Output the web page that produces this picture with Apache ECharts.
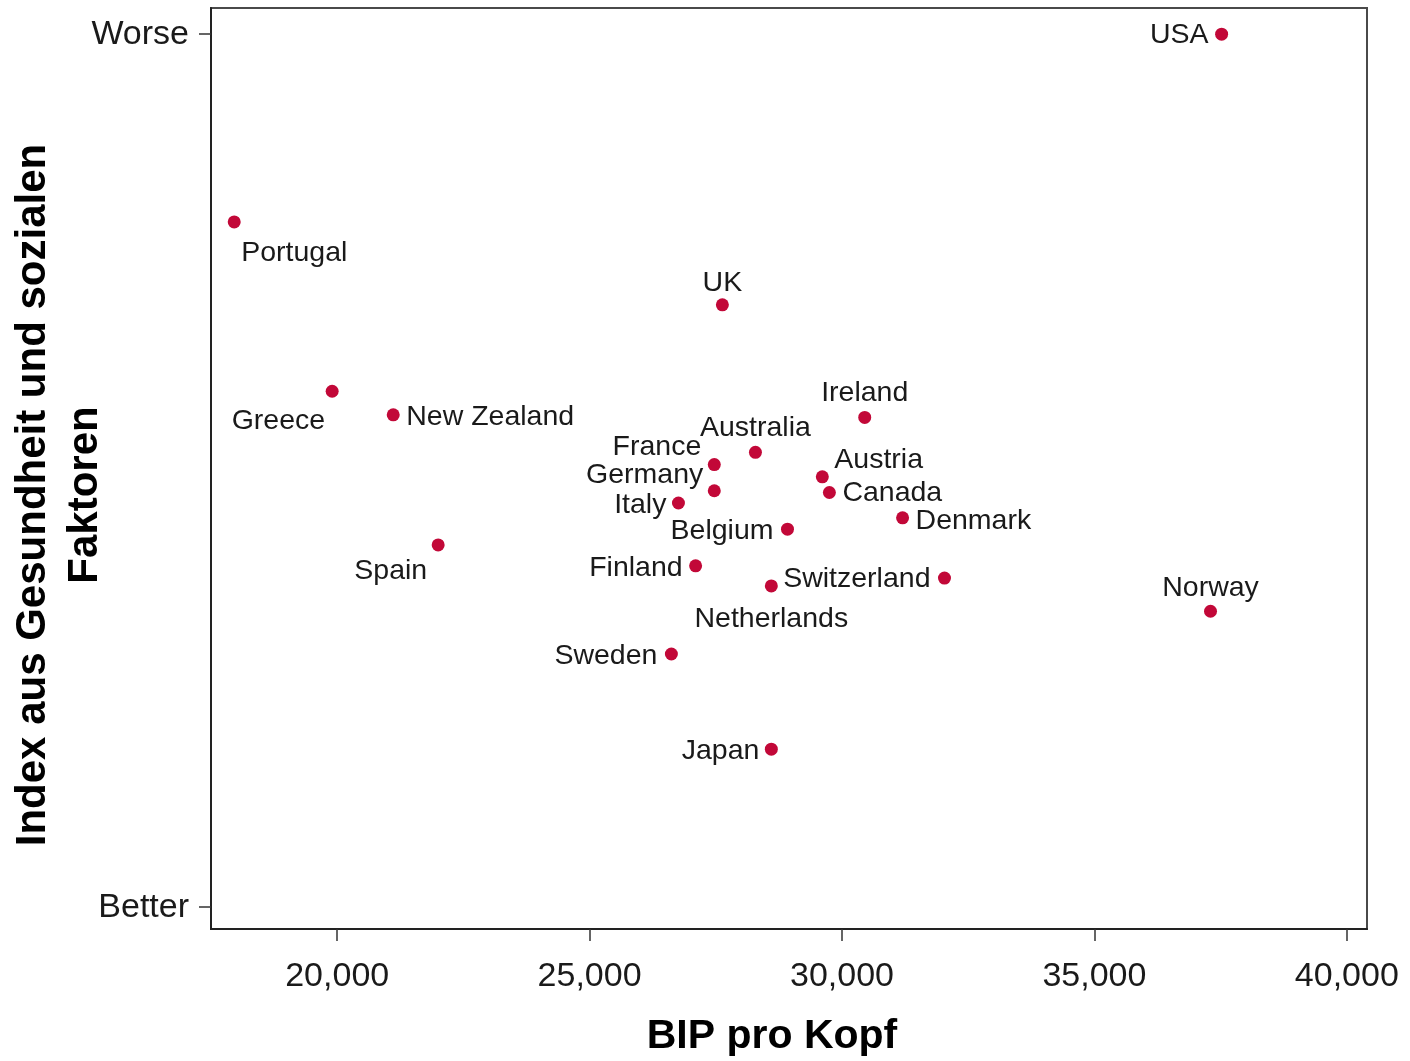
<!DOCTYPE html>
<html>
<head>
<meta charset="utf-8">
<script src="https://cdn.jsdelivr.net/npm/echarts@6/dist/echarts.min.js"></script>
<style>
html,body{margin:0;padding:0;background:#fff;}
#chart{width:1410px;height:1061px;}
</style>
</head>
<body>
<div id="chart"></div>
<script>
// Data
const countries = ['USA','Portugal','UK','Greece','New Zealand','Ireland','Australia','France','Germany','Austria','Canada','Italy','Belgium','Denmark','Spain','Finland','Switzerland','Netherlands','Norway','Sweden','Japan'];
const gdpPerCapita = [37520,17960,27630,19900,21110,30450,28285,27470,27470,29610,29750,26760,28920,31200,22000,27100,32030,28600,37300,26620,28600];
// index: 0 = Better, 100 = Worse
const indexValues = [100,78.5,69.0,59.1,56.4,56.1,52.1,50.7,47.7,49.3,47.5,46.3,43.3,44.6,41.5,39.1,37.7,36.8,33.9,29.0,18.1];
const xTickValues = [20000,25000,30000,35000,40000];
const xTickLabels = ['20,000','25,000','30,000','35,000','40,000'];
const yTickValues = [0,100];
const yTickLabels = ['Better','Worse'];
// label placement per point: [align, dx, dy]
const labelPlacement = {
  'USA':['right',-13,1],
  'Portugal':['left',7,31],
  'UK':['center',0,-22],
  'Greece':['right',-7,30],
  'New Zealand':['left',13,2],
  'Ireland':['center',0,-24],
  'Australia':['center',0,-24],
  'France':['right',-13,-17],
  'Germany':['right',-11,-16],
  'Austria':['left',12,-17],
  'Canada':['left',13,1],
  'Italy':['right',-12,2],
  'Belgium':['right',-14,2],
  'Denmark':['left',13,3],
  'Spain':['right',-11,26],
  'Finland':['right',-13,2],
  'Switzerland':['right',-14,1],
  'Netherlands':['center',0,33],
  'Norway':['center',0,-23],
  'Sweden':['right',-14,2],
  'Japan':['right',-12,2]
};

const FONT = '"Liberation Sans", Arial, sans-serif';
const data = countries.map((c, i) => {
  const p = labelPlacement[c];
  return {
    name: c,
    value: [gdpPerCapita[i], indexValues[i]],
    label: { align: p[0], offset: [p[1], p[2]] }
  };
});

const chart = echarts.init(document.getElementById('chart'), null, {renderer: 'canvas'});
chart.setOption({
  backgroundColor: '#ffffff',
  animation: false,
  grid: {
    left: 211, top: 8, right: 43, bottom: 132,
    show: true, borderColor: '#4a4a4a', borderWidth: 2, backgroundColor: 'transparent'
  },
  xAxis: {
    type: 'value',
    min: 17500, max: 40400,
    splitLine: {show: false},
    axisLine: {show: true, onZero: false, lineStyle: {color: '#222', width: 2}},
    axisTick: {show: true, length: 12, customValues: xTickValues, lineStyle: {color: '#333', width: 1.5}},
    axisLabel: {
      customValues: xTickValues,
      formatter: v => xTickLabels[xTickValues.indexOf(v)],
      fontFamily: FONT, fontSize: 34, color: '#1a1a1a', margin: 31
    }
  },
  yAxis: {
    type: 'value',
    min: -2.5, max: 103,
    splitLine: {show: false},
    axisLine: {show: true, onZero: false, lineStyle: {color: '#222', width: 2}},
    axisTick: {show: true, length: 12, customValues: yTickValues, lineStyle: {color: '#333', width: 1.5}},
    axisLabel: {
      customValues: yTickValues,
      formatter: v => yTickLabels[yTickValues.indexOf(v)],
      fontFamily: FONT, fontSize: 34, color: '#1a1a1a', margin: 22
    }
  },
  series: [{
    type: 'scatter',
    symbol: 'circle',
    symbolSize: 13,
    itemStyle: {color: '#c20838', opacity: 1},
    label: {
      show: true,
      position: 'inside',
      verticalAlign: 'middle',
      formatter: '{b}',
      fontFamily: FONT,
      fontSize: 28.5,
      color: '#1a1a1a'
    },
    data: data
  }],
  graphic: [
    {
      type: 'text',
      x: 772, y: 1037,
      style: {
        text: 'BIP pro Kopf',
        font: 'bold 41px ' + FONT,
        fill: '#000',
        textAlign: 'center',
        textVerticalAlign: 'middle'
      }
    },
    {
      type: 'text',
      x: 59, y: 495,
      rotation: Math.PI / 2,
      style: {
        text: 'Index aus Gesundheit und sozialen\nFaktoren',
        font: 'bold 42px ' + FONT,
        lineHeight: 52,
        fill: '#000',
        textAlign: 'center',
        textVerticalAlign: 'middle'
      }
    }
  ]
});
</script>
</body>
</html>
